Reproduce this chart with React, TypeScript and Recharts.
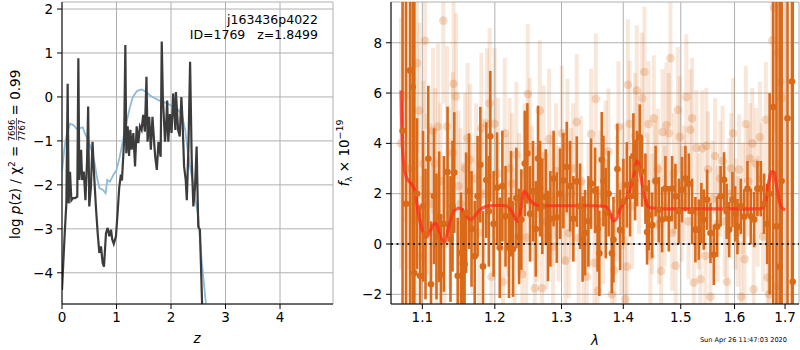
import {
  ComposedChart,
  Line,
  Scatter,
  ErrorBar,
  XAxis,
  YAxis,
  CartesianGrid,
  ReferenceLine,
} from "recharts";

const FONT = "DejaVu Sans, sans-serif";

// left panel: log p(z) (dark) and prior (blue)
const pzPoints: [number, number][] = [
  [0.0, -4.39], [0.05, -3.1], [0.08, -2.42], [0.104, 0.3], [0.122, -2.42], [0.147, -1.7],
  [0.172, -2.35], [0.2, -2.3], [0.24, -2.3], [0.28, -2.27], [0.3, 0.88], [0.318, -1.89],
  [0.35, -1.2], [0.37, -1.89], [0.4, -1.7], [0.43, -2.35], [0.46, -1.43], [0.48, -0.22],
  [0.5, -2.49], [0.53, -2.06], [0.56, -1.02], [0.594, -1.89], [0.625, -2.56], [0.655, -3.1],
  [0.685, -3.55], [0.716, -3.4], [0.746, -3.78], [0.77, -3.86], [0.807, -3.1], [0.838, -2.98],
  [0.868, -3.17], [0.9, -3.02], [0.92, -3.23], [0.95, -3.34], [0.99, -3.17], [1.02, -2.64],
  [1.05, -2.06], [1.08, -1.77], [1.1, -1.9], [1.14, -0.98], [1.162, 1.18], [1.18, -1.28],
  [1.205, -0.67], [1.23, -1.34], [1.254, -0.75], [1.278, -1.2], [1.309, -0.82], [1.34, -1.58],
  [1.37, -0.67], [1.4, -1.05], [1.43, -0.67], [1.46, -0.75], [1.49, -0.41], [1.52, -0.79],
  [1.55, 0.46], [1.57, -1.02], [1.6, -0.45], [1.63, -1.2], [1.66, -0.45], [1.69, -1.02],
  [1.71, -1.36], [1.74, -1.66], [1.77, -1.02], [1.81, -1.36], [1.83, 1.26], [1.85, 0.0],
  [1.87, -0.5], [1.89, -1.02], [1.91, -0.67], [1.93, -0.08], [1.95, -1.02], [1.98, -0.39],
  [2.01, -0.82], [2.04, 0.08], [2.08, -0.75], [2.09, 0.11], [2.13, -0.75], [2.16, -0.9],
  [2.19, 0.0], [2.21, -0.5], [2.24, -1.58], [2.27, -1.89], [2.29, -2.35], [2.32, -1.13],
  [2.35, 0.8], [2.38, -1.43], [2.41, -2.49], [2.44, -2.06], [2.47, -1.13], [2.49, -2.35],
  [2.5, -2.95], [2.53, -3.02], [2.57, -4.69], [2.6, -6.0],
];

const priorPoints: [number, number][] = [
  [0.0, -1.7], [0.05, -1.1], [0.09, -0.83], [0.15, -0.61], [0.21, -0.64], [0.27, -0.73],
  [0.33, -0.71], [0.38, -0.69], [0.42, -0.83], [0.48, -0.98], [0.54, -1.2], [0.6, -1.51],
  [0.645, -1.85], [0.69, -2.08], [0.75, -2.11], [0.8, -2.19], [0.83, -1.89], [0.88, -1.93],
  [0.94, -1.78], [1.0, -1.66], [1.06, -1.36], [1.12, -0.98], [1.18, -0.6], [1.24, -0.26],
  [1.3, 0.0], [1.38, 0.14], [1.46, 0.17], [1.54, 0.12], [1.61, 0.04], [1.7, -0.03],
  [1.8, -0.09], [1.92, -0.14], [2.04, -0.22], [2.13, -0.29], [2.2, -0.41], [2.26, -0.75],
  [2.32, -1.36], [2.41, -2.04], [2.5, -2.72], [2.56, -3.7], [2.64, -4.69], [2.72, -5.9],
];

// right panel: [wavelength, flux, error]
const darkPoints: [number, number, number][] = [
  [1.0742, 4.5, 14], [1.0787, 1.6, 14], [1.0839, 6.9, 14], [1.0874, 6.24, 14], [1.0895, -1.15, 12],
  [1.093, 2.0, 3.0], [1.097, -1.26, 2.8], [1.1009, 1.5, 3.0], [1.1042, 0.4, 2.6], [1.1079, 3.39, 2.9],
  [1.1115, -1.6, 2.5], [1.1155, 1.9, 2.7], [1.1188, 0.3, 2.5], [1.1225, 1.08, 2.6], [1.1248, -1.22, 2.4],
  [1.1288, 0.8, 2.7], [1.1338, 2.86, 2.6], [1.1378, 0.2, 2.5], [1.1406, 1.5, 2.6], [1.143, 2.84, 2.4],
  [1.1477, -1.26, 2.3], [1.1523, -0.35, 2.4], [1.1546, -0.77, 2.2], [1.1572, -0.8, 2.0], [1.1593, 1.24, 2.4],
  [1.1634, 2.1, 2.3], [1.1669, 0.6, 2.3], [1.1714, -0.49, 2.2], [1.1754, 1.9, 2.4], [1.1793, 3.15, 2.3],
  [1.1831, -0.89, 2.2], [1.1878, 2.54, 2.3], [1.1913, 1.3, 2.2], [1.1935, 4.28, 2.6], [1.1982, 0.8, 2.1],
  [1.2032, 2.24, 2.2], [1.2071, -0.15, 2.0], [1.2109, 2.3, 2.2], [1.2155, 1.1, 2.0], [1.2206, -0.15, 2.0],
  [1.2236, 1.6, 2.1], [1.2265, -0.2, 1.9], [1.2314, 1.83, 2.0], [1.2354, 0.3, 1.9], [1.2388, 0.97, 2.0],
  [1.2439, 3.2, 2.1], [1.2478, 3.6, 2.0], [1.2518, 1.2, 1.9], [1.2564, 2.1, 2.0], [1.2604, 0.6, 1.9],
  [1.2639, 3.4, 2.1], [1.2669, 2.2, 1.9], [1.2704, 1.5, 1.9], [1.2756, 1.87, 1.9], [1.2791, 0.32, 1.8],
  [1.2827, 1.0, 1.9], [1.2877, 2.6, 1.9], [1.2926, 1.05, 1.8], [1.2977, 2.0, 1.8], [1.3029, 2.52, 1.9],
  [1.3082, 3.06, 1.8], [1.3134, 2.3, 1.8], [1.3186, 1.0, 1.7], [1.324, 2.48, 1.8], [1.3293, 1.5, 1.7],
  [1.3333, 0.2, 1.7], [1.3373, 0.45, 1.7], [1.3426, 0.9, 1.8], [1.3469, 2.4, 1.8], [1.3534, 2.13, 1.7],
  [1.3575, 0.6, 1.7], [1.3604, -0.37, 1.7], [1.3643, 3.35, 1.9], [1.367, 2.5, 1.8], [1.3709, 1.23, 1.8],
  [1.3756, 2.0, 1.7], [1.3809, -0.37, 1.6], [1.3836, 0.17, 1.7], [1.3902, 2.98, 1.8], [1.3947, 0.56, 1.6],
  [1.4002, 1.69, 1.7], [1.406, 2.35, 1.7], [1.4115, 1.9, 1.6], [1.4171, 3.5, 1.7], [1.42, 2.54, 1.6],
  [1.4234, 3.0, 1.5], [1.428, 4.25, 1.3], [1.432, 2.88, 1.4], [1.4377, 2.2, 1.4], [1.4406, 0.48, 1.3],
  [1.4435, 1.14, 1.4], [1.4493, 0.75, 1.3], [1.4554, 2.5, 1.4], [1.461, 1.36, 1.3], [1.4668, 0.97, 1.3],
  [1.4726, 2.2, 1.3], [1.4786, 1.0, 1.3], [1.4845, 2.2, 1.3], [1.4904, 1.89, 1.3], [1.4965, 1.3, 1.3],
  [1.5024, 2.16, 1.3], [1.5084, 2.6, 1.3], [1.5145, 2.4, 1.2], [1.5206, 1.3, 1.3], [1.5266, 0.57, 1.3],
  [1.5328, 0.57, 1.2], [1.5376, 1.23, 1.2], [1.542, 0.97, 1.2], [1.5482, 1.76, 1.2], [1.5544, 0.44, 1.2],
  [1.5607, -0.43, 1.2], [1.5669, 0.69, 1.2], [1.5735, 1.9, 1.2], [1.5801, 2.55, 1.1], [1.5849, 1.3, 1.1],
  [1.5897, 0.57, 1.1], [1.596, 1.76, 1.1], [1.6011, 1.2, 1.1], [1.6056, 0.69, 1.1], [1.6121, 1.5, 1.1],
  [1.6186, 1.08, 1.1], [1.625, 2.2, 1.1], [1.6316, 1.1, 1.1], [1.6381, 0.97, 1.1], [1.6446, 2.2, 1.1],
  [1.6513, 2.2, 1.1], [1.6578, 1.6, 1.2], [1.6638, 0.8, 1.6], [1.6688, 2.0, 4.0], [1.6759, 5.44, 14],
  [1.6826, 0.7, 14], [1.6891, -0.9, 14], [1.6931, 2.5, 14], [1.705, 5.0, 14], [1.7141, 6.46, 14],
  [1.7157, -1.5, 14],
];

const lightPoints: [number, number, number][] = [
  [1.0722, 4.0, 5], [1.0765, 5.87, 5], [1.0813, 3.0, 4], [1.0858, 3.0, 4], [1.0911, 1.0, 4],
  [1.093, 7.19, 3.5], [1.096, 5.3, 3.5], [1.099, -0.5, 3.2], [1.1013, 3.19, 3.3], [1.1036, 8.08, 3.5],
  [1.1062, 2.0, 3.2], [1.1106, 1.6, 3.2], [1.1141, 4.5, 3.3], [1.1169, 3.2, 3.0], [1.1191, -0.07, 3.0],
  [1.1208, 4.67, 3.3], [1.124, 2.5, 3.1], [1.128, 8.88, 3.3], [1.1297, 0.0, 3.0], [1.1331, 4.67, 3.2],
  [1.1372, 1.2, 3.0], [1.1409, 3.63, 3.2], [1.142, 6.37, 3.3], [1.1453, 5.87, 3.3], [1.1488, 2.3, 3.0],
  [1.1516, 1.6, 3.0], [1.1546, 0.25, 3.0], [1.1579, 3.0, 3.0], [1.1613, 4.2, 3.0], [1.1648, 3.35, 3.0],
  [1.1683, 1.0, 3.0], [1.1733, 2.6, 3.0], [1.1775, 0.45, 3.0], [1.1807, 4.6, 3.0], [1.1846, 2.0, 3.0],
  [1.1888, 4.78, 3.0], [1.1926, 5.59, 3.0], [1.1951, -1.3, 3.0], [1.1998, 4.78, 3.0], [1.2046, 2.8, 3.0],
  [1.2119, -1.5, 2.8], [1.2144, 4.4, 3.0], [1.2182, 1.5, 2.8], [1.2214, 3.0, 2.8], [1.2251, 2.4, 2.8],
  [1.2287, 0.2, 2.8], [1.2314, 3.55, 2.9], [1.2354, 1.6, 2.8], [1.2403, -1.2, 2.8], [1.2436, 2.8, 2.8],
  [1.2463, 0.26, 2.7], [1.2484, 5.96, 2.8], [1.2514, 3.8, 2.8], [1.2548, 2.0, 2.7], [1.2589, -1.76, 2.7],
  [1.2624, 1.2, 2.7], [1.2665, 5.3, 2.8], [1.27, -1.76, 2.7], [1.2723, 3.5, 2.8], [1.2769, 0.9, 2.7],
  [1.2807, 4.17, 2.8], [1.2846, 1.8, 2.7], [1.2869, -0.1, 2.7], [1.2915, 2.9, 2.7], [1.2954, 1.2, 2.7],
  [1.3004, 4.4, 2.7], [1.304, 1.8, 2.6], [1.3063, -0.66, 2.6], [1.3094, 3.87, 2.7], [1.3114, 0.44, 2.6],
  [1.3149, 2.0, 2.6], [1.3181, 3.0, 2.6], [1.324, 4.85, 2.7], [1.3269, 0.24, 2.6], [1.3309, 2.5, 2.6],
  [1.3349, 0.05, 2.5], [1.34, -1.3, 2.5], [1.3429, 1.5, 2.5], [1.3469, 4.37, 2.6], [1.3523, -0.75, 2.5],
  [1.3546, 5.77, 2.6], [1.3578, -1.86, 2.5], [1.3616, 2.0, 2.5], [1.3665, 0.9, 2.5], [1.3706, 3.2, 2.5],
  [1.3752, 3.68, 2.5], [1.3809, -2.0, 2.5], [1.3852, -1.05, 2.5], [1.3889, 1.8, 2.5], [1.3919, 4.66, 2.6],
  [1.3964, 0.5, 2.5], [1.3997, 2.3, 2.5], [1.4031, -2.2, 2.5], [1.406, -0.9, 2.5], [1.4077, 6.33, 2.6],
  [1.4107, 4.78, 2.5], [1.4149, 1.5, 2.5], [1.42, 4.3, 2.5], [1.4229, 6.1, 2.6], [1.4268, 3.0, 2.6],
  [1.432, 5.8, 2.6], [1.4359, 6.84, 2.6], [1.4406, 2.0, 2.4], [1.4431, 4.77, 2.5], [1.4463, -0.47, 2.4],
  [1.4493, 1.2, 2.4], [1.4522, 5.0, 2.5], [1.4554, 2.5, 2.4], [1.4592, 2.97, 2.4], [1.4615, 0.8, 2.4],
  [1.4651, -1.07, 2.4], [1.4677, 4.45, 2.5], [1.4712, 1.5, 2.4], [1.4744, 4.72, 2.5], [1.4786, 4.4, 2.4],
  [1.4815, 7.39, 2.7], [1.4845, 0.44, 2.3], [1.4875, 2.8, 2.4], [1.4908, -0.86, 2.3], [1.4947, 5.33, 2.5],
  [1.4982, 4.26, 2.4], [1.5015, 1.6, 2.3], [1.506, 2.4, 2.3], [1.5101, 5.84, 2.5], [1.5141, 0.9, 2.3],
  [1.5174, 4.54, 2.4], [1.5206, 5.0, 2.4], [1.5237, -1.53, 2.3], [1.5284, 3.82, 2.3], [1.5325, 1.3, 2.3],
  [1.5358, -1.4, 2.3], [1.5389, 3.8, 2.3], [1.545, -0.47, 2.3], [1.5469, 3.9, 2.3], [1.55, 2.97, 2.3],
  [1.5544, -2.1, 2.3], [1.5585, 1.8, 2.3], [1.5631, 3.5, 2.3], [1.5679, 0.8, 2.3], [1.5726, 2.6, 2.3],
  [1.5773, 3.3, 2.2], [1.5811, 0.9, 2.2], [1.5853, -1.5, 2.2], [1.5897, 2.0, 2.2], [1.5935, 3.0, 2.2],
  [1.5973, 4.4, 2.2], [1.6021, 1.2, 2.2], [1.606, 0.5, 2.2], [1.6089, 2.96, 2.2], [1.6127, -2.1, 2.2],
  [1.6166, 1.8, 2.2], [1.6195, -0.6, 2.2], [1.6219, 4.77, 2.3], [1.6264, 2.5, 2.2], [1.6302, 3.4, 2.2],
  [1.6347, 4.0, 2.2], [1.6371, -1.8, 2.2], [1.6414, 3.2, 2.2], [1.645, 1.3, 2.2], [1.6493, 4.25, 2.2],
  [1.6529, 2.6, 2.2], [1.6558, 0.3, 2.2], [1.6612, 4.94, 2.3], [1.6648, -1.33, 2.4], [1.6678, -2.0, 3.0],
  [1.6744, 8.1, 5], [1.6778, 9.4, 5], [1.6833, -1.66, 5], [1.6857, 7.6, 5], [1.69, 6.46, 5],
  [1.6931, 5.8, 5],
];

const modelPoints: [number, number][] = [
  [1.0722, 6.1], [1.0731, 4.67], [1.0752, 3.35], [1.0787, 2.69], [1.0861, 2.36], [1.0904, 2.1],
  [1.0947, 1.23], [1.1013, 0.44], [1.1058, 0.28], [1.1102, 0.5], [1.1146, 0.77], [1.1182, 0.83],
  [1.1213, 0.56], [1.1259, 0.18], [1.1304, 0.09], [1.1335, 0.44], [1.1381, 1.0], [1.144, 1.36],
  [1.1509, 1.43], [1.1569, 1.23], [1.1648, 0.97], [1.1695, 1.03], [1.1766, 1.3], [1.186, 1.48],
  [1.1979, 1.53], [1.2123, 1.53], [1.2196, 1.48], [1.2261, 1.23], [1.2329, 0.9], [1.2369, 1.23],
  [1.2409, 1.9], [1.2432, 2.1], [1.2468, 2.0], [1.2518, 1.76], [1.2594, 1.57], [1.2669, 1.52],
  [1.3029, 1.52], [1.3507, 1.52], [1.3698, 1.5], [1.3769, 1.3], [1.3836, 0.91], [1.388, 0.98],
  [1.3947, 1.39], [1.4031, 1.7], [1.4115, 2.2], [1.4183, 2.78], [1.4229, 3.31], [1.4263, 3.16],
  [1.4302, 2.63], [1.4354, 1.97], [1.44, 1.57], [1.4458, 1.44], [1.4692, 1.4], [1.5291, 1.4],
  [1.5915, 1.4], [1.6499, 1.4], [1.6598, 1.55], [1.6664, 2.42], [1.6732, 2.88], [1.6778, 2.85],
  [1.6819, 2.42], [1.6886, 1.69], [1.6955, 1.4], [1.7001, 1.36],
];

const zTicks = [0, 1, 2, 3, 4];
const logPTicks = [-4, -3, -2, -1, 0, 1, 2];
const waveTicks = [1.1, 1.2, 1.3, 1.4, 1.5, 1.6, 1.7];
const fluxTicks = [-2, 0, 2, 4, 6, 8];

const FLUX_MIN = -2.385;
const FLUX_MAX = 9.62;

const pzData = pzPoints.map(([z, v]) => ({ z, v }));
const priorData = priorPoints.map(([z, v]) => ({ z, v }));
const darkData = darkPoints.map(([w, f, e]) => ({ w, f, e }));
const lightData = lightPoints.map(([w, f, e]) => ({ w, f, e }));
const modelData = modelPoints.map(([w, f]) => ({ w, f }));

// error bars are cut at the panel edges, like matplotlib's clipping
const clippedErr = (d: { f: number; e: number }) => [
  Math.min(d.e, d.f - FLUX_MIN),
  Math.min(d.e, FLUX_MAX - d.f),
];

const DARK = "#d96a1a";
const tickStyle = { fill: "#000", fontSize: 13.5, fontFamily: FONT };
const minus = (v: number) => (v < 0 ? "\u2212" + Math.abs(v) : String(v));

function LeftYLabel() {
  return (
    <g>
      <g transform="translate(20,153) rotate(-90)">
        <text x={-86} y={0} fontFamily={FONT} fontSize={13.5} fill="#000">
          log <tspan fontStyle="italic">p</tspan>(z) / χ
          <tspan dy={-5} fontSize={9}>2</tspan>
          <tspan dy={5}> = </tspan>
          <tspan dy={-5} fontSize={8.5}>7696</tspan>
          <tspan dx={-21.6} dy={10} fontSize={8.5}>7767</tspan>
          <tspan dy={-5} fontSize={13.5}> = 0.99</tspan>
        </text>
        <line x1={13} x2={35} y1={-3.5} y2={-3.5} stroke="#000" strokeWidth={0.6} />
      </g>
      <text x={318} y={24} textAnchor="end" fontFamily={FONT} fontSize={12.5} fill="#000">
        j163436p4022
      </text>
      <text x={318} y={39} textAnchor="end" fontFamily={FONT} fontSize={12.5} fill="#000" style={{ whiteSpace: "pre" }}>
        {"ID=1769   z=1.8499"}
      </text>
    </g>
  );
}

function RightYLabel() {
  return (
    <g transform="translate(14,153) rotate(-90)">
      <text x={0} y={0} textAnchor="middle" fontFamily={FONT} fontSize={13.5} fill="#000">
        <tspan fontStyle="italic">f</tspan>
        <tspan dy={3} fontSize={9}>λ</tspan>
        <tspan dy={-3}> × 10</tspan>
        <tspan dy={-6} fontSize={9.5}>−19</tspan>
      </text>
    </g>
  );
}

export default function App() {
  return (
    <div style={{ position: "absolute", left: 0, top: 0, width: 800, height: 350, background: "#fff" }}>
      <div style={{ position: "absolute", left: 0, top: 0 }}>
        <ComposedChart width={335} height={350} margin={{ top: 2, right: 2, bottom: 16, left: 12 }}>
          <CartesianGrid stroke="#b0b0b0" strokeWidth={1} />
          <XAxis
            dataKey="z"
            type="number"
            domain={[0, 4.972]}
            ticks={zTicks}
            allowDataOverflow
            height={30}
            tick={tickStyle}
            tickSize={5}
            tickMargin={3}
            tickLine={{ stroke: "#000" }}
            axisLine={{ stroke: "#000" }}
            label={() => (
              <text x={197} y={343} textAnchor="middle" fontFamily={FONT} fontSize={13.5} fontStyle="italic" fill="#000">
                z
              </text>
            )}
          />
          <XAxis xAxisId="top" orientation="top" type="number" domain={[0, 1]} height={0} tick={false} tickLine={false} axisLine={{ stroke: "#000" }} />
          <YAxis
            type="number"
            domain={[-4.71, 2.16]}
            ticks={logPTicks}
            allowDataOverflow
            width={50}
            tick={tickStyle}
            tickFormatter={minus}
            tickSize={5}
            tickMargin={4}
            tickLine={{ stroke: "#000" }}
            axisLine={{ stroke: "#000" }}
            label={() => <LeftYLabel />}
          />
          <YAxis yAxisId="right" orientation="right" type="number" domain={[0, 1]} width={0} tick={false} tickLine={false} axisLine={{ stroke: "#000" }} />
          <Line data={priorData} dataKey="v" type="linear" stroke="#8fbbd9" strokeWidth={1.8} dot={false} isAnimationActive={false} />
          <Line data={pzData} dataKey="v" type="linear" stroke="#3c3c3c" strokeWidth={2.2} dot={false} isAnimationActive={false} />
        </ComposedChart>
      </div>
      <div style={{ position: "absolute", left: 335, top: 0 }}>
        <ComposedChart width={465} height={350} margin={{ top: 2, right: 1, bottom: 16, left: 20 }}>
          <CartesianGrid stroke="#b0b0b0" strokeWidth={1} />
          <XAxis
            dataKey="w"
            type="number"
            scale="log"
            domain={[1.0594, 1.7287]}
            ticks={waveTicks}
            allowDataOverflow
            height={30}
            tick={tickStyle}
            tickSize={5}
            tickMargin={3}
            tickLine={{ stroke: "#000" }}
            axisLine={{ stroke: "#000" }}
            label={() => (
              <g>
                <text x={260} y={345} textAnchor="middle" fontFamily={FONT} fontSize={13.5} fontStyle="italic" fill="#000">
                  λ
                </text>
                <text x={452} y={342} textAnchor="end" fontFamily={FONT} fontSize={6.6} fill="#000">
                  Sun Apr 26 11:47:03 2020
                </text>
              </g>
            )}
          />
          <XAxis xAxisId="top" orientation="top" type="number" domain={[0, 1]} height={0} tick={false} tickLine={false} axisLine={{ stroke: "#000" }} />
          <YAxis
            dataKey="f"
            type="number"
            domain={[FLUX_MIN, FLUX_MAX]}
            ticks={fluxTicks}
            allowDataOverflow
            width={36}
            tick={tickStyle}
            tickFormatter={minus}
            tickSize={5}
            tickMargin={4}
            tickLine={{ stroke: "#000" }}
            axisLine={{ stroke: "#000" }}
            label={() => <RightYLabel />}
          />
          <YAxis yAxisId="right" orientation="right" type="number" domain={[0, 1]} width={0} tick={false} tickLine={false} axisLine={{ stroke: "#000" }} />
          <Scatter
            data={lightData}
            dataKey="f"
            isAnimationActive={false}
            shape={(p: any) => <circle cx={p.cx} cy={p.cy} r={4.3} fill={DARK} fillOpacity={0.25} />}
          >
            <ErrorBar dataKey={clippedErr} direction="y" width={0} stroke={DARK} strokeOpacity={0.16} strokeWidth={4} />
          </Scatter>
          <Scatter
            data={darkData}
            dataKey="f"
            isAnimationActive={false}
            shape={(p: any) => <circle cx={p.cx} cy={p.cy} r={3.3} fill={DARK} />}
          >
            <ErrorBar dataKey={clippedErr} direction="y" width={0} stroke={DARK} strokeWidth={2.6} />
          </Scatter>
          <Line data={modelData} dataKey="f" type="monotone" stroke="#ff2a1a" strokeOpacity={0.75} strokeWidth={3.2} dot={false} isAnimationActive={false} />
          <ReferenceLine y={0} stroke="#222" strokeWidth={2} strokeDasharray="2 3.5" />
        </ComposedChart>
      </div>
    </div>
  );
}
